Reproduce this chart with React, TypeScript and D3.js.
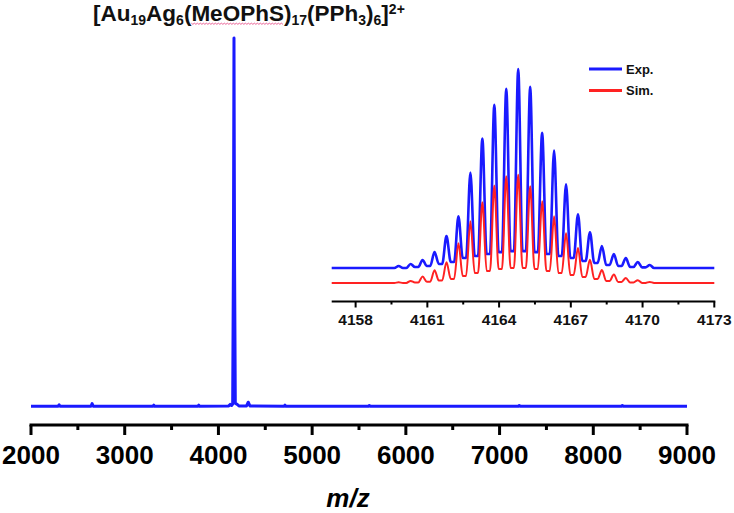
import React, { useLayoutEffect, useRef, useState } from "react";
import * as d3 from "d3";

// ---------- data ----------
// main spectrum (m/z, relative intensity)
const mainMz = [2000, 2290, 2300, 2310, 2640, 2652, 2664, 3300, 3310, 3320, 3780, 3790, 3800, 4110, 4125, 4140, 4152, 4160, 4166, 4172, 4180, 4196, 4210, 4222, 4300, 4318, 4336, 4700, 4710, 4720, 5600, 5610, 5620, 7200, 7210, 7220, 8300, 8310, 8320, 9000];
const mainInt = [0.2, 0.2, 0.6, 0.2, 0.2, 0.9, 0.2, 0.2, 0.5, 0.2, 0.2, 0.5, 0.2, 0.3, 0.7, 0.4, 0.8, 40, 100, 40, 1.0, 0.8, 0.5, 0.3, 0.3, 1.3, 0.3, 0.2, 0.5, 0.2, 0.2, 0.4, 0.2, 0.2, 0.4, 0.2, 0.2, 0.4, 0.2, 0.2];
const mainTicks = [2000, 3000, 4000, 5000, 6000, 7000, 8000, 9000];

// isotope pattern (inset)
const isoMz = [4159.8, 4160.3, 4160.8, 4161.3, 4161.8, 4162.3, 4162.8, 4163.3, 4163.8, 4164.3, 4164.8, 4165.3, 4165.8, 4166.3, 4166.8, 4167.3, 4167.8, 4168.3, 4168.8, 4169.3, 4169.8, 4170.3];
const expPeak = [1, 2, 4, 8, 16, 26, 48, 65, 82, 90, 100, 91, 68, 59, 42, 27, 18, 11, 7, 5, 3, 1.5];
const expValley = [0, 0.5, 1, 2, 3, 5, 6, 7, 8, 8.5, 8.5, 8, 7, 6, 5, 3.5, 2.5, 1.5, 1, 0.5, 0.3];
const simPeak = [0.3, 1, 3.2, 6.4, 10.4, 20, 31, 40.5, 49, 53.6, 54.4, 48.6, 41, 33.5, 25, 17.6, 11.6, 6.5, 4.2, 2.5, 1.4, 0.5];
const simValley = [0, 0.2, 0.6, 1.2, 2, 3.5, 5, 6, 7, 7.5, 7.5, 7, 6, 5, 4, 3, 2, 1, 0.5, 0.2, 0];
const insetTicks = [4158, 4161, 4164, 4167, 4170, 4173];
const insetDomain = [4157, 4173];
const legendLabels = ["Exp.", "Sim."];

// ---------- layout ----------
const W = 734, H = 513;
const FONT = "'Liberation Sans', Arial, Helvetica, sans-serif";
const BLUE = "#1a1aff";
const RED = "#ff2222";
const SIM_OFFSET = -7.5;
const SHOULDER = 0.18;

function buildIso(peaks: number[], valleys: number[], offset: number): [number, number][] {
  const pts: [number, number][] = [[insetDomain[0], offset]];
  isoMz.forEach((c, i) => {
    const lv = i > 0 ? valleys[i - 1] : 0;
    const rv = i < valleys.length ? valleys[i] : 0;
    pts.push([c - SHOULDER, lv + offset]);
    pts.push([c, peaks[i] + offset]);
    pts.push([c + SHOULDER, rv + offset]);
  });
  pts.push([insetDomain[1], offset]);
  return pts;
}

export default function App() {
  const x = d3.scaleLinear().domain([2000, 9000]).range([31, 687]);
  const y = d3.scaleLinear().domain([0, 100]).range([407, 38]);
  const xi = d3.scaleLinear().domain(insetDomain).range([331.7, 714.3]);
  const yi = d3.scaleLinear().domain([0, 100]).range([268, 69]);

  const mainLine = d3
    .line<number>()
    .x((_, i) => x(mainMz[i]))
    .y((d) => y(d))
    .curve(d3.curveLinear)(mainInt) as string;

  const isoLine = d3
    .line<[number, number]>()
    .x((d) => xi(d[0]))
    .y((d) => yi(d[1]))
    .curve(d3.curveMonotoneX);
  const expPath = isoLine(buildIso(expPeak, expValley, 0)) as string;
  const simPath = isoLine(buildIso(simPeak, simValley, SIM_OFFSET)) as string;

  const axisY = 425;
  const majors = mainTicks;
  const minors = d3.range(2500, 9000, 1000);
  const insetAxisY = 301.5;
  const insetMinors = d3.range(4159.5, 4173, 3);

  const ulRef = useRef<SVGTSpanElement>(null);
  const [ul, setUl] = useState<{ x0: number; x1: number } | null>(null);
  useLayoutEffect(() => {
    const t = ulRef.current as any;
    if (t && t.getStartPositionOfChar) {
      try {
        const x0 = t.getStartPositionOfChar(0).x;
        const n = t.getNumberOfChars();
        const x1 = t.getEndPositionOfChar(n - 1).x;
        setUl({ x0, x1 });
      } catch (e) {}
    }
  }, []);

  let wavy = "";
  if (ul) {
    const pts: [number, number][] = [];
    for (let px = ul.x0, k = 0; px <= ul.x1; px += 1.5, k++) pts.push([px, 23.5 + (k % 2 ? 0.8 : -0.3)]);
    wavy = d3.line()(pts) as string;
  }

  return (
    <svg width={W} height={H} style={{ position: "absolute", left: 0, top: 0, background: "#fff" }} fontFamily={FONT}>
      {/* title */}
      <text x={93} y={21} fontSize={22.5} fontWeight="bold" fill="#111">
        [Au<tspan fontSize={14} dy={4}>19</tspan>
        <tspan dy={-4}>Ag</tspan>
        <tspan fontSize={14} dy={4}>6</tspan>
        <tspan dy={-4}>(</tspan>
        <tspan ref={ulRef}>MeOPhS</tspan>
        <tspan>)</tspan>
        <tspan fontSize={14} dy={4}>17</tspan>
        <tspan dy={-4}>(PPh</tspan>
        <tspan fontSize={14} dy={4}>3</tspan>
        <tspan dy={-4}>)</tspan>
        <tspan fontSize={14} dy={4}>6</tspan>
        <tspan dy={-4}>]</tspan>
        <tspan fontSize={14} dy={-7}>2+</tspan>
      </text>
      {wavy && <path d={wavy} fill="none" stroke="#e8508a" strokeWidth={0.9} />}

      {/* main spectrum */}
      <path d={mainLine} fill="none" stroke={BLUE} strokeWidth={3} strokeLinejoin="round" />

      {/* main axis */}
      <g stroke="#000" strokeWidth={3}>
        <line x1={x(2000) - 1.5} x2={x(9000) + 1.5} y1={axisY} y2={axisY} />
        {majors.map((t) => (
          <line key={"M" + t} x1={x(t)} x2={x(t)} y1={axisY} y2={axisY + 10} />
        ))}
        {minors.map((t) => (
          <line key={"m" + t} x1={x(t)} x2={x(t)} y1={axisY} y2={axisY + 5} />
        ))}
      </g>
      {majors.map((t) => (
        <text key={"L" + t} x={x(t)} y={464} fontSize={26} fontWeight="bold" textAnchor="middle" fill="#000">
          {t}
        </text>
      ))}
      <text x={348} y={507} fontSize={26} fontWeight="bold" fontStyle="italic" textAnchor="middle" fill="#000">
        m/z
      </text>

      {/* inset */}
      <path d={expPath} fill="none" stroke={BLUE} strokeWidth={2.6} strokeLinejoin="round" />
      <path d={simPath} fill="none" stroke={RED} strokeWidth={2} strokeLinejoin="round" />
      <g stroke="#000" strokeWidth={2}>
        <line x1={xi(insetDomain[0])} x2={xi(insetDomain[1]) + 1} y1={insetAxisY} y2={insetAxisY} />
        {insetTicks.map((t) => (
          <line key={"iM" + t} x1={xi(t)} x2={xi(t)} y1={insetAxisY} y2={insetAxisY + 6} />
        ))}
        {insetMinors.map((t) => (
          <line key={"im" + t} x1={xi(t)} x2={xi(t)} y1={insetAxisY} y2={insetAxisY + 3} />
        ))}
      </g>
      {insetTicks.map((t) => (
        <text key={"iL" + t} x={xi(t)} y={325} fontSize={15.5} fontWeight="bold" textAnchor="middle" fill="#111">
          {t}
        </text>
      ))}

      {/* legend */}
      <line x1={589} x2={622} y1={69} y2={69} stroke={BLUE} strokeWidth={3} />
      <text x={626} y={73.5} fontSize={13} fontWeight="bold" fill="#111">{legendLabels[0]}</text>
      <line x1={589} x2={622} y1={90.5} y2={90.5} stroke={RED} strokeWidth={3} />
      <text x={626} y={95} fontSize={13} fontWeight="bold" fill="#111">{legendLabels[1]}</text>
    </svg>
  );
}
